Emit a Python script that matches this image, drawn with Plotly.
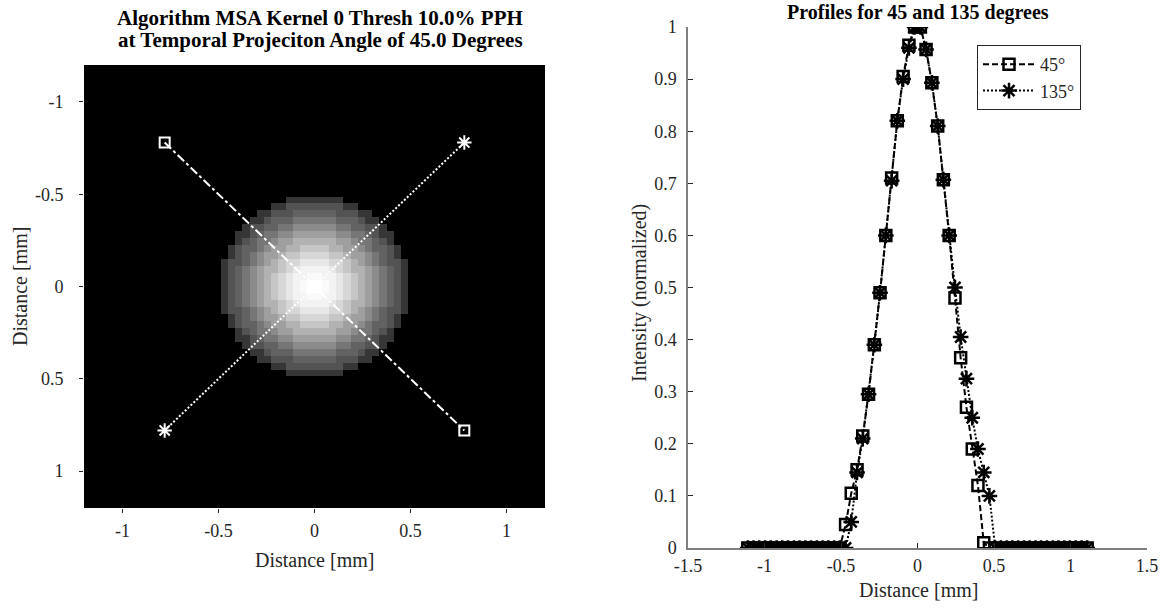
import numpy as np
import plotly.graph_objects as go

# ---------------- data ----------------
distance_mm = [
    -1.109, -1.072, -1.034, -0.996, -0.959, -0.921, -0.884, -0.846, -0.808, -0.771,
    -0.733, -0.696, -0.658, -0.620, -0.583, -0.545, -0.508, -0.470, -0.433, -0.395,
    -0.358, -0.320, -0.282, -0.245, -0.207, -0.169, -0.132, -0.094, -0.056, -0.019,
    0.019, 0.056, 0.094, 0.132, 0.169, 0.207, 0.245, 0.282, 0.320, 0.358,
    0.395, 0.433, 0.470, 0.508, 0.545, 0.583, 0.620, 0.658, 0.696, 0.733,
    0.771, 0.808, 0.846, 0.884, 0.921, 0.959, 0.996, 1.034, 1.072, 1.109,
]
profile_45 = [
    0, 0, 0, 0, 0, 0, 0, 0, 0, 0,
    0, 0, 0, 0, 0, 0, 0, 0.045, 0.105, 0.15,
    0.215, 0.295, 0.39, 0.49, 0.60, 0.71, 0.82, 0.905, 0.965, 1.0,
    1.0, 0.957, 0.893, 0.81, 0.707, 0.60, 0.48, 0.365, 0.27, 0.19,
    0.12, 0.01, 0, 0, 0, 0, 0, 0, 0, 0,
    0, 0, 0, 0, 0, 0, 0, 0, 0, 0,
]
profile_135 = [
    0, 0, 0, 0, 0, 0, 0, 0, 0, 0,
    0, 0, 0, 0, 0, 0, 0, 0, 0.05, 0.145,
    0.21, 0.295, 0.39, 0.49, 0.60, 0.705, 0.82, 0.90, 0.96, 1.0,
    1.0, 0.957, 0.893, 0.81, 0.707, 0.60, 0.50, 0.405, 0.325, 0.25,
    0.19, 0.145, 0.10, 0, 0, 0, 0, 0, 0, 0,
    0, 0, 0, 0, 0, 0, 0, 0, 0, 0,
]
# profile line end points drawn on the image (mm)
line45_x = [-0.78, 0.78]
line45_y = [-0.78, 0.78]
line135_x = [-0.78, 0.78]
line135_y = [0.78, -0.78]

x_ticks = [-1, -0.5, 0, 0.5, 1]
x_tick_text = ["-1", "-0.5", "0", "0.5", "1"]
y_ticks = [-1, -0.5, 0, 0.5, 1]
y_tick_text = ["-1", "-0.5", "0", "0.5", "1"]
rx_ticks = [-1.5, -1, -0.5, 0, 0.5, 1, 1.5]
rx_tick_text = ["-1.5", "-1", "-0.5", "0", "0.5", "1", "1.5"]
ry_ticks = [0, 0.1, 0.2, 0.3, 0.4, 0.5, 0.6, 0.7, 0.8, 0.9, 1]
ry_tick_text = ["0", "0.1", "0.2", "0.3", "0.4", "0.5", "0.6", "0.7", "0.8", "0.9", "1"]

# ---------------- image built from the measured radial profile ----------------
npix = 64
pix = 2.4 / npix
centers = -1.2 + pix / 2 + pix * np.arange(npix)
radial_d = np.abs(np.array(distance_mm[:30][::-1]))   # outward distances
radial_v = np.array(profile_45[:30][::-1])            # outward values
XX, YY = np.meshgrid(centers, centers)
R = np.sqrt(XX ** 2 + YY ** 2)
idx = np.abs(R[..., None] - radial_d[None, None, :]).argmin(axis=-1)
Z = radial_v[idx]
Z[R < radial_d[0]] = 1.0

stops = [0, 0.02, 0.05, 0.1, 0.2, 0.3, 0.4, 0.5, 0.6, 0.7, 0.8, 0.9, 1.0]
gray_scale = []
for s in stops:
    g = int(round(255 * s ** 0.5))
    gray_scale.append([s, f"rgb({g},{g},{g})"])

FONT = "Liberation Serif, Times New Roman, serif"
AX = "#262626"

fig = go.Figure()
fig.add_trace(go.Heatmap(x=centers, y=centers, z=Z, colorscale=gray_scale,
                         zmin=0, zmax=1, showscale=False, hoverinfo="skip",
                         xaxis="x", yaxis="y"))
fig.add_trace(go.Scatter(x=line45_x, y=line45_y, mode="lines+markers",
                         line=dict(color="white", width=2, dash="9px,3px,3px,3px"),
                         marker=dict(symbol="square-open", size=10, color="white",
                                     line=dict(width=2, color="white")),
                         showlegend=False, xaxis="x", yaxis="y"))
fig.add_trace(go.Scatter(x=line135_x, y=line135_y, mode="lines+markers",
                         line=dict(color="white", width=2, dash="2px,2px"),
                         marker=dict(symbol="asterisk-open", size=12, color="white",
                                     line=dict(width=2, color="white")),
                         showlegend=False, xaxis="x", yaxis="y"))

fig.add_trace(go.Scatter(x=distance_mm, y=profile_45, mode="lines+markers", name="45°",
                         line=dict(color="black", width=2, dash="6px,3px"),
                         marker=dict(symbol="square-open", size=11, color="black",
                                     line=dict(width=2.5, color="black")),
                         xaxis="x2", yaxis="y2"))
fig.add_trace(go.Scatter(x=distance_mm, y=profile_135, mode="lines+markers", name="135°",
                         line=dict(color="black", width=2, dash="2px,2px"),
                         marker=dict(symbol="asterisk-open", size=13, color="black",
                                     line=dict(width=2.5, color="black")),
                         xaxis="x2", yaxis="y2"))

W, H = 1172, 608
def fx(p):
    return p / W
def fy(p):
    return 1 - p / H
def px_x(a, b):
    return [fx(a), fx(b)]
def px_y(top, bottom):
    return [fy(bottom), fy(top)]

tickfont = dict(family=FONT, size=18, color=AX)
labfont = dict(family=FONT, size=20, color=AX)

common = dict(showgrid=False, zeroline=False, tickfont=tickfont, automargin=False,
              tickcolor=AX)

fig.update_layout(
    width=W, height=H, margin=dict(l=0, r=0, t=0, b=0),
    paper_bgcolor="white", plot_bgcolor="white",
    font=dict(family=FONT, color=AX),
    xaxis=dict(domain=px_x(84, 545), range=[-1.2, 1.2], tickvals=x_ticks,
               ticktext=x_tick_text, ticks="outside", ticklen=4, showline=False,
               ticklabelstandoff=2, **common),
    yaxis=dict(domain=px_y(65, 508), range=[1.2, -1.2], tickvals=y_ticks,
               ticktext=y_tick_text, ticks="outside", ticklen=4, showline=False,
               ticklabelstandoff=12, **common),
    xaxis2=dict(domain=px_x(688, 1147), range=[-1.5, 1.5], tickvals=rx_ticks,
                ticktext=rx_tick_text, ticks="inside", ticklen=5,
                showline=True, linecolor="#7f7f7f", linewidth=1.5, anchor="y2",
                ticklabelstandoff=1, **common),
    yaxis2=dict(domain=px_y(27, 548), range=[0, 1], tickvals=ry_ticks,
                ticktext=ry_tick_text, ticks="inside", ticklen=5,
                showline=True, linecolor="#7f7f7f", linewidth=1.5, anchor="x2",
                ticklabelstandoff=6, **common),
    legend=dict(x=fx(977), y=fy(45), xanchor="left", yanchor="top",
                bgcolor="white", bordercolor=AX, borderwidth=1,
                font=dict(family=FONT, size=18, color=AX), itemwidth=52,
                tracegroupgap=0),
    annotations=[
        dict(text="<b>Algorithm MSA Kernel 0 Thresh 10.0% PPH</b>",
             x=fx(320), y=fy(18), xref="paper", yref="paper", xanchor="center",
             yanchor="middle", showarrow=False, font=dict(family=FONT, size=21, color="black")),
        dict(text="<b>at Temporal Projeciton Angle of 45.0 Degrees</b>",
             x=fx(320), y=fy(40), xref="paper", yref="paper", xanchor="center",
             yanchor="middle", showarrow=False, font=dict(family=FONT, size=21, color="black")),
        dict(text="<b>Profiles for 45 and 135 degrees</b>",
             x=fx(918), y=fy(12), xref="paper", yref="paper", xanchor="center",
             yanchor="middle", showarrow=False, font=dict(family=FONT, size=20, color="black")),
        dict(text="Distance [mm]", x=fx(314), y=fy(560), xref="paper", yref="paper",
             xanchor="center", yanchor="middle", showarrow=False, font=labfont),
        dict(text="Distance [mm]", x=fx(20), y=fy(287), xref="paper", yref="paper",
             xanchor="center", yanchor="middle", showarrow=False, textangle=-90, font=labfont),
        dict(text="Distance [mm]", x=fx(918), y=fy(590), xref="paper", yref="paper",
             xanchor="center", yanchor="middle", showarrow=False, font=labfont),
        dict(text="Intensity (normalized)", x=fx(640), y=fy(293), xref="paper", yref="paper",
             xanchor="center", yanchor="middle", showarrow=False, textangle=-90, font=labfont),
    ],
)

# remove the default 8px page margin so the figure fills the window exactly
fig.write_html("out.html", config={"displayModeBar": False},
               post_script="document.body.style.margin='0';")
